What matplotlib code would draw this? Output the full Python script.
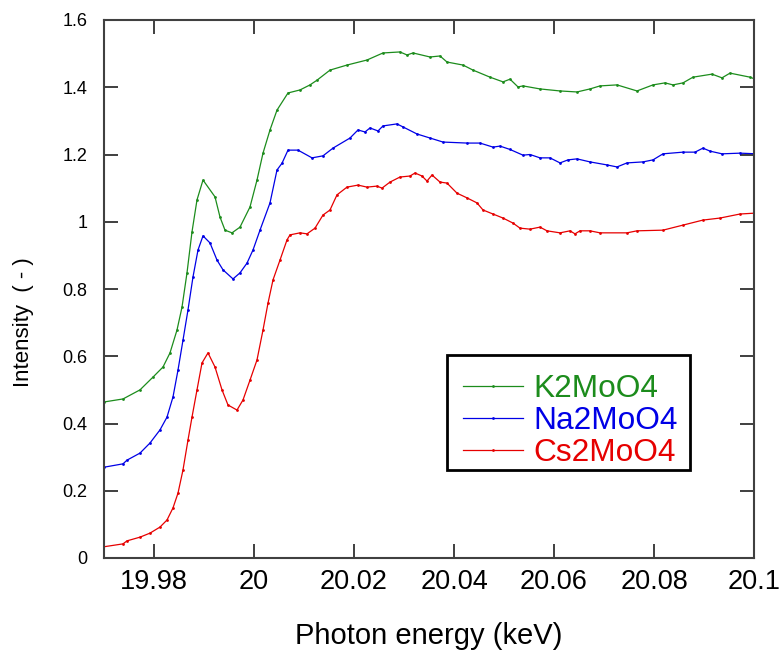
import numpy as np
import matplotlib
matplotlib.use("Agg")
import matplotlib.pyplot as plt
from matplotlib.ticker import FuncFormatter
from matplotlib.patches import Rectangle

# === Data (energy in keV, intensity) ===
k_energy = [19.9700, 19.9738, 19.9772, 19.9798, 19.9818, 19.9832, 19.9846, 19.9856, 19.9866, 19.9876,
            19.9886, 19.9898, 19.9922, 19.9932, 19.9942, 19.9956, 19.9972, 19.9992, 20.0006, 20.0018,
            20.0032, 20.0046, 20.0068, 20.0092, 20.0112, 20.0126, 20.0152, 20.0186, 20.0226, 20.0258,
            20.0292, 20.0306, 20.0318, 20.0352, 20.0372, 20.0386, 20.0418, 20.0438, 20.0472, 20.0498,
            20.0512, 20.0528, 20.0538, 20.0572, 20.0612, 20.0646, 20.0672, 20.0692, 20.0726, 20.0766,
            20.0798, 20.0822, 20.0838, 20.0858, 20.0878, 20.0916, 20.0936, 20.0952, 20.0992, 20.1006]
k_intensity = [0.464, 0.473, 0.500, 0.538, 0.568, 0.610, 0.678, 0.746, 0.848, 0.970,
               1.065, 1.124, 1.074, 1.014, 0.975, 0.967, 0.984, 1.044, 1.124, 1.204,
               1.273, 1.332, 1.383, 1.392, 1.407, 1.421, 1.451, 1.466, 1.481, 1.502,
               1.505, 1.496, 1.502, 1.490, 1.493, 1.475, 1.466, 1.451, 1.430, 1.416,
               1.424, 1.401, 1.404, 1.395, 1.389, 1.386, 1.395, 1.404, 1.407, 1.389,
               1.407, 1.413, 1.407, 1.413, 1.430, 1.439, 1.428, 1.442, 1.430, 1.422]

na_energy = [19.9700, 19.9738, 19.9746, 19.9772, 19.9792, 19.9812, 19.9826, 19.9838, 19.9848, 19.9858,
             19.9868, 19.9878, 19.9888, 19.9898, 19.9912, 19.9926, 19.9938, 19.9958, 19.9972, 19.9986,
             19.9998, 20.0012, 20.0032, 20.0046, 20.0056, 20.0068, 20.0088, 20.0116, 20.0138, 20.0158,
             20.0192, 20.0208, 20.0222, 20.0232, 20.0248, 20.0258, 20.0286, 20.0298, 20.0326, 20.0352,
             20.0378, 20.0426, 20.0452, 20.0478, 20.0492, 20.0512, 20.0538, 20.0552, 20.0572, 20.0592,
             20.0612, 20.0628, 20.0646, 20.0672, 20.0706, 20.0726, 20.0746, 20.0778, 20.0798, 20.0818,
             20.0858, 20.0882, 20.0898, 20.0912, 20.0936, 20.0972, 20.1006]
na_intensity = [0.270, 0.280, 0.291, 0.312, 0.342, 0.381, 0.419, 0.479, 0.559, 0.648,
                0.738, 0.836, 0.916, 0.958, 0.937, 0.886, 0.857, 0.830, 0.848, 0.877,
                0.916, 0.975, 1.056, 1.154, 1.174, 1.213, 1.213, 1.190, 1.196, 1.219,
                1.249, 1.273, 1.267, 1.279, 1.270, 1.285, 1.291, 1.282, 1.261, 1.249,
                1.237, 1.234, 1.234, 1.222, 1.225, 1.215, 1.198, 1.200, 1.190, 1.190,
                1.175, 1.184, 1.187, 1.178, 1.169, 1.163, 1.175, 1.178, 1.184, 1.202,
                1.207, 1.207, 1.219, 1.210, 1.202, 1.204, 1.202]

cs_energy = [19.9698, 19.9738, 19.9746, 19.9772, 19.9792, 19.9812, 19.9826, 19.9838, 19.9848, 19.9858,
             19.9868, 19.9876, 19.9886, 19.9896, 19.9908, 19.9922, 19.9936, 19.9948, 19.9966, 19.9978,
             19.9992, 20.0006, 20.0018, 20.0028, 20.0038, 20.0052, 20.0066, 20.0072, 20.0092, 20.0106,
             20.0122, 20.0138, 20.0152, 20.0166, 20.0186, 20.0208, 20.0226, 20.0246, 20.0256, 20.0272,
             20.0292, 20.0312, 20.0322, 20.0336, 20.0346, 20.0356, 20.0372, 20.0386, 20.0406, 20.0426,
             20.0446, 20.0458, 20.0478, 20.0498, 20.0518, 20.0532, 20.0552, 20.0572, 20.0586, 20.0612,
             20.0632, 20.0642, 20.0652, 20.0672, 20.0692, 20.0746, 20.0766, 20.0818, 20.0858, 20.0898,
             20.0932, 20.0972, 20.1006]
cs_intensity = [0.033, 0.042, 0.051, 0.062, 0.074, 0.092, 0.113, 0.149, 0.193, 0.262,
                0.351, 0.419, 0.500, 0.580, 0.610, 0.568, 0.500, 0.455, 0.440, 0.470,
                0.529, 0.589, 0.678, 0.758, 0.827, 0.886, 0.946, 0.961, 0.967, 0.964,
                0.981, 1.020, 1.035, 1.080, 1.103, 1.109, 1.103, 1.106, 1.100, 1.118,
                1.133, 1.136, 1.145, 1.136, 1.121, 1.139, 1.118, 1.115, 1.085, 1.071,
                1.056, 1.035, 1.023, 1.011, 0.996, 0.981, 0.978, 0.984, 0.973, 0.967,
                0.973, 0.964, 0.973, 0.973, 0.967, 0.967, 0.973, 0.975, 0.990, 1.005,
                1.011, 1.023, 1.026]

labels = ["K2MoO4", "Na2MoO4", "Cs2MoO4"]
colors = ["#1c8c1c", "#0000e6", "#e60000"]

x_ticks = [19.98, 20.00, 20.02, 20.04, 20.06, 20.08, 20.10]
y_ticks = [0, 0.2, 0.4, 0.6, 0.8, 1.0, 1.2, 1.4, 1.6]

plt.rcParams['font.family'] = ['Liberation Sans', 'DejaVu Sans']

W, H = 784, 653
fig = plt.figure(figsize=(W / 100, H / 100), dpi=100)
ax = fig.add_axes([104 / W, 1 - 558 / H, 650 / W, 538 / H])

series = [(k_energy, k_intensity), (na_energy, na_intensity), (cs_energy, cs_intensity)]
for (e, v), lab, col in zip(series, labels, colors):
    ax.plot(e, v, color=col, lw=0.9, marker='o', ms=2.0, mew=0, mfc=col, label=lab)

ax.set_xlim(19.97, 20.10)
ax.set_ylim(0, 1.6)
ax.set_xticks(x_ticks)
ax.set_yticks(y_ticks)
fmt = FuncFormatter(lambda v, p: f"{round(v, 4):g}")
ax.xaxis.set_major_formatter(fmt)
ax.yaxis.set_major_formatter(fmt)

ax.tick_params(axis='both', direction='in', top=True, right=True,
               length=10, width=1.3, color='#303030')
ax.tick_params(axis='x', labelsize=19.5, pad=8)
ax.tick_params(axis='y', labelsize=13, pad=12)
for s in ax.spines.values():
    s.set_linewidth(1.5)
    s.set_color('#404040')

ax.set_xlabel("Photon energy (keV)", fontsize=21, labelpad=19)
fig.text(24 / W, 1 - 322 / H, "Intensity  ( - )", rotation=90,
         fontsize=16, ha='center', va='center')

# legend box drawn separately so the text can sit where it does in the reference
box = Rectangle((447 / W, 1 - 470 / H), 243 / W, 115 / H,
                transform=fig.transFigure, facecolor='white',
                edgecolor='black', lw=2, zorder=4, clip_on=False)
ax.add_patch(box)
leg = ax.legend(loc='upper left', bbox_to_anchor=(449 / W, 1 - 360 / H),
                bbox_transform=fig.transFigure, borderaxespad=0,
                fontsize=22.8, handlelength=1.9, handletextpad=0.3,
                labelspacing=0.065, borderpad=0.45, frameon=False)
leg.set_zorder(6)
for txt, col in zip(leg.get_texts(), colors):
    txt.set_color(col)

fig.savefig("out.png", dpi=100)
